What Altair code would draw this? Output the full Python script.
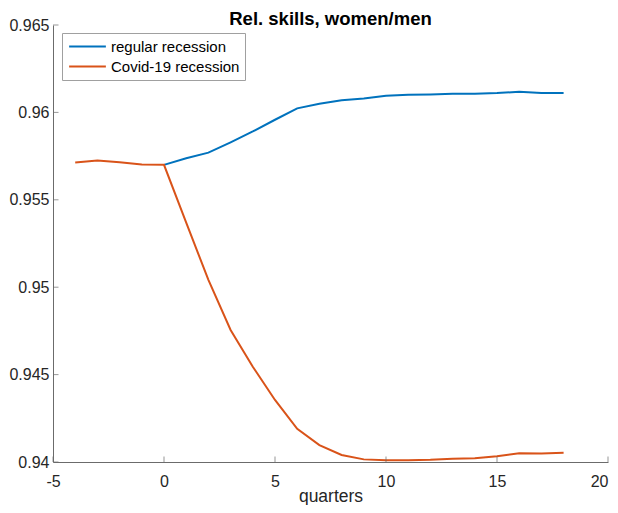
import altair as alt
import pandas as pd

# ---- data ----
regular_q = list(range(0, 19))
regular_vals = [0.95700, 0.95738, 0.95770, 0.95829, 0.95891, 0.95958, 0.96023,
                0.96050, 0.96069, 0.96080, 0.96095, 0.96101, 0.96103, 0.96107,
                0.96107, 0.96111, 0.96118, 0.96111, 0.96111]
covid_q = list(range(-4, 19))
covid_vals = [0.95714, 0.95725, 0.95715, 0.95702, 0.95700, 0.95369, 0.95042,
              0.94755, 0.94545, 0.94355, 0.94190, 0.94097, 0.94040, 0.94015,
              0.94010, 0.94010, 0.94013, 0.94019, 0.94021, 0.94033, 0.94050,
              0.94048, 0.94053]
series_names = ["regular recession", "Covid-19 recession"]
series_colors = ["#0072BD", "#D95319"]
x_ticks = [-5, 0, 5, 10, 15, 20]
y_ticks = [0.94, 0.945, 0.95, 0.955, 0.96, 0.965]

df = pd.concat([
    pd.DataFrame({"q": regular_q, "value": regular_vals, "series": series_names[0]}),
    pd.DataFrame({"q": covid_q, "value": covid_vals, "series": series_names[1]}),
], ignore_index=True)

W, H = 555, 437
FONT = "Liberation Sans"
AXC = "#6b6b6b"
TXT = "#262626"

x_scale = alt.Scale(domain=[-5, 20], nice=False, zero=False)
y_scale = alt.Scale(domain=[0.94, 0.965], nice=False, zero=False)

x_enc = alt.X("q:Q", scale=x_scale,
              axis=alt.Axis(values=x_ticks, title="quarters", labelExpr="datum.value + ''",
                            labelPadding=11, labelFlush=False,
                            labelAlign=alt.condition("datum.value == 20", alt.value("right"), alt.value("center")),
                            titleBaseline="alphabetic", titleY=39))
y_enc = alt.Y("value:Q", scale=y_scale,
              axis=alt.Axis(values=y_ticks, title=None, labelExpr="format(datum.value, '~g')",
                            labelPadding=4, labelFlush=False))

lines = alt.Chart(df).mark_line(strokeWidth=2).encode(
    x=x_enc,
    y=y_enc,
    color=alt.Color("series:N",
                    scale=alt.Scale(domain=series_names, range=series_colors),
                    legend=alt.Legend(title=None, orient="none", legendX=9, legendY=8,
                                      symbolType="M-2.45,0H2.45", symbolSize=225,
                                      symbolStrokeWidth=2, symbolFillColor="transparent",
                                      symbolOffset=12, labelFontSize=15,
                                      labelFont=FONT, labelColor="black", padding=5,
                                      rowPadding=3, strokeColor="#a0a0a0",
                                      fillColor="white", labelOffset=15,
                                      cornerRadius=0)),
    order=alt.Order("q:Q"),
)

xt = alt.Chart(pd.DataFrame({"q": x_ticks})).mark_tick(
    orient="vertical", size=5.5, thickness=1, color=AXC
).encode(x=x_enc, y=alt.value(H - 2.75))

yt = alt.Chart(pd.DataFrame({"value": y_ticks})).mark_tick(
    orient="horizontal", size=5.5, thickness=1, color=AXC
).encode(y=y_enc, x=alt.value(2.75))

chart = alt.layer(lines, xt, yt).properties(
    width=W, height=H,
    title=alt.TitleParams("Rel. skills, women/men", fontSize=18.5, font=FONT,
                          fontWeight="bold", color="black", offset=-11.5),
    autosize=alt.AutoSizeParams(type="none"),
    padding={"left": 45, "top": 17, "right": 2, "bottom": 43},
).configure_view(stroke=None).configure_axis(
    domainColor=AXC, domainWidth=1, ticks=False, tickSize=0, grid=False,
    labelFont=FONT, labelFontSize=16, labelColor=TXT,
    titleFont=FONT, titleFontSize=17.5, titleFontWeight="normal", titleColor=TXT,
)

chart.save("out.html", embed_options={"renderer": "svg", "actions": False})
